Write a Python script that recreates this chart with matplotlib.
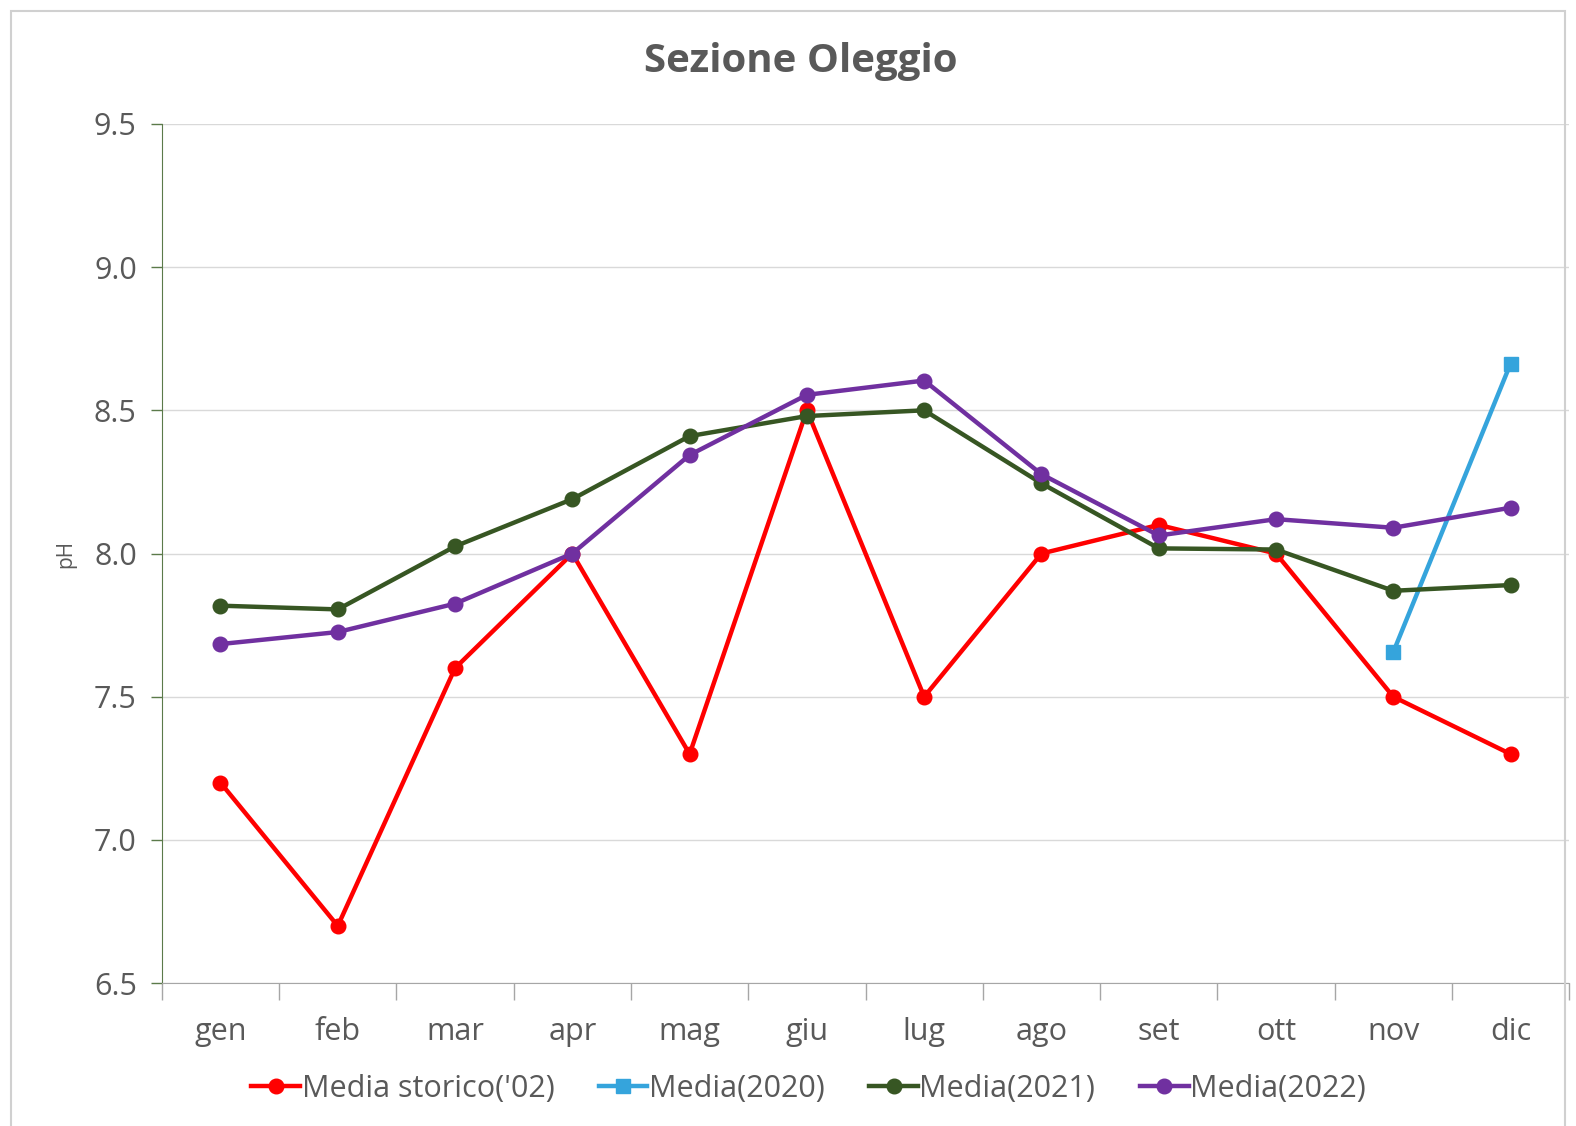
import numpy as np
import matplotlib
matplotlib.use("Agg")
import matplotlib.pyplot as plt
from matplotlib.patches import Rectangle

plt.rcParams['font.family'] = ['Open Sans', 'DejaVu Sans']

months = ["gen", "feb", "mar", "apr", "mag", "giu", "lug", "ago", "set", "ott", "nov", "dic"]
storico = [7.2, 6.7, 7.6, 8.0, 7.3, 8.5, 7.5, 8.0, 8.1, 8.0, 7.5, 7.3]
media_2020 = [np.nan] * 10 + [7.656, 8.663]
media_2021 = [7.818, 7.805, 8.025, 8.19, 8.41, 8.48, 8.50, 8.245, 8.018, 8.014, 7.87, 7.89]
media_2022 = [7.684, 7.726, 7.825, 8.0, 8.344, 8.554, 8.604, 8.277, 8.063, 8.12, 8.09, 8.16]

series = [
    ("Media storico('02)", storico, "#ff0000", "o"),
    ("Media(2020)", media_2020, "#35a4dc", "s"),
    ("Media(2021)", media_2021, "#375623", "o"),
    ("Media(2022)", media_2022, "#7030a0", "o"),
]

text_col = "#595959"

fig = plt.figure(figsize=(15.76, 11.26), dpi=100)
fig.patches.append(Rectangle((0.007, -0.01), 0.986, 1.0, transform=fig.transFigure,
                             fill=False, edgecolor="#d0d0d0", linewidth=1.5))
ax = fig.add_axes([0.1027, 0.1268, 0.893, 0.7632])

x = np.arange(len(months))
for label, vals, col, mk in series:
    ax.plot(x, vals, color=col, lw=3.2, marker=mk, markersize=10.5, label=label, zorder=3)

ax.set_xlim(-0.5, 11.5)
ax.set_ylim(6.5, 9.5)
ax.set_yticks(np.arange(6.5, 9.51, 0.5))
ax.set_yticklabels([f"{v:.1f}" for v in np.arange(6.5, 9.51, 0.5)])
ax.set_xticks(x)
ax.set_xticklabels(months)
ax.set_xticks(np.arange(-0.5, 11.6, 1), minor=True)
ax.tick_params(axis="x", which="major", length=0, pad=24, labelsize=22, labelcolor=text_col)
ax.tick_params(axis="x", which="minor", length=12, width=1, color="#a6a6a6", direction="out")
ax.tick_params(axis="y", length=8, width=1, color="#5b7a4a", pad=10, labelsize=22, labelcolor=text_col)

ax.grid(axis="y", color="#d9d9d9", lw=1)
ax.set_axisbelow(True)
for s in ["top", "right"]:
    ax.spines[s].set_visible(False)
ax.spines["left"].set_color("#5b7a4a")
ax.spines["bottom"].set_color("#a6a6a6")

ax.set_ylabel("pH", fontsize=15, color=text_col, labelpad=13)
fig.text(0.508, 0.945, "Sezione Oleggio", ha="center", va="center", fontsize=29,
         fontweight="bold", color=text_col)

fig.legend(loc="center", bbox_to_anchor=(0.513, 0.033), ncol=4, frameon=False,
           fontsize=22, handlelength=1.6, handletextpad=0.05, columnspacing=1.45,
           labelcolor=text_col)

fig.savefig("out.png", dpi=100)
